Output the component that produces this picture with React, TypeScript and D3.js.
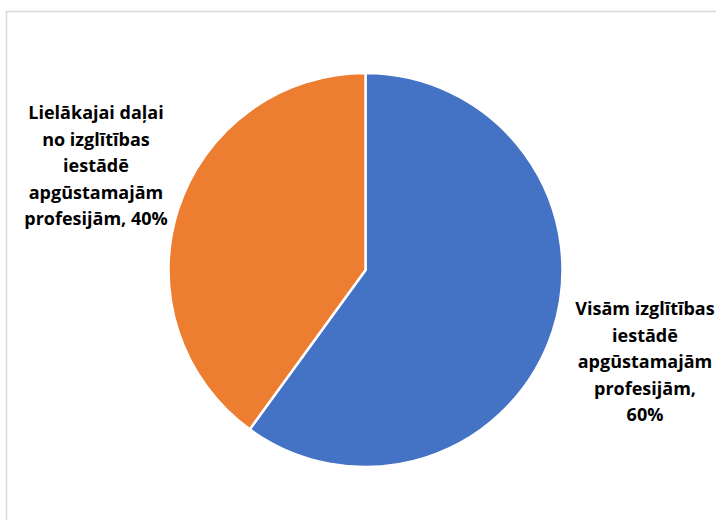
import React from "react";
import * as d3 from "d3";

const categories = [
  "Visām izglītības iestādē apgūstamajām profesijām",
  "Lielākajai daļai no izglītības iestādē apgūstamajām profesijām",
];
const values = [60, 40];
const colors = ["#4472C4", "#ED7D31"];
const labelLines = [
  ["Visām izglītības", "iestādē", "apgūstamajām", "profesijām,", "60%"],
  ["Lielākajai daļai", "no izglītības", "iestādē", "apgūstamajām", "profesijām, 40%"],
];

const W = 716;
const H = 520;
const cx = 365.5;
const cy = 270;
const R = 197;

const labelPos = [
  { x: 645, y: 315 },
  { x: 96, y: 119 },
];

export default function App() {
  const pie = d3.pie<number>().sort(null).value((d) => d)(values);
  const arc = d3.arc<d3.PieArcDatum<number>>().innerRadius(0).outerRadius(R);
  return (
    <svg
      width={W}
      height={H}
      style={{ position: "absolute", left: 0, top: 0, background: "#fff" }}
    >
      <rect x={6.5} y={11.5} width={W + 20} height={H + 20} fill="#fff" stroke="#d9d9d9" strokeWidth={1.5} />
      <g transform={`translate(${cx},${cy})`}>
        {pie.map((p, i) => (
          <path key={categories[i]} d={arc(p) || ""} fill={colors[i]} stroke="#fff" strokeWidth={2.5} strokeLinejoin="round" />
        ))}
      </g>
      {labelLines.map((lines, i) => (
        <text
          key={i}
          x={labelPos[i].x}
          y={labelPos[i].y}
          textAnchor="middle"
          fontFamily="'Open Sans', sans-serif"
          fontWeight="bold"
          fontSize={18}
          fill="#000"
        >
          {lines.map((l, j) => (
            <tspan key={j} x={labelPos[i].x} dy={j === 0 ? 0 : 26.5}>
              {l}
            </tspan>
          ))}
        </text>
      ))}
    </svg>
  );
}
